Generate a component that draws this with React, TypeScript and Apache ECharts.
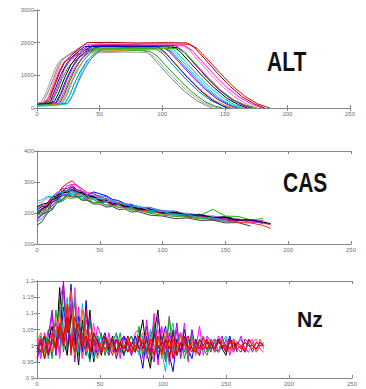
import { useEffect, useRef } from "react";
import * as echarts from "echarts";

// ---------- DATA ----------
const X_TICKS = [0, 50, 100, 150, 200, 250];
const ALT_TICKS = [0, 1000, 2000, 3000];
const CAS_TICKS = [100, 200, 300, 400];
const NZ_TICKS = [0.9, 0.95, 1, 1.05, 1.1, 1.15, 1.2];
const TITLES = ["ALT", "CAS", "Nz"];

const ALT_FLIGHTS: number[][][] = [
  [[0,120],[6,140],[10,350],[14,750],[18,1150],[22,1420],[28,1560],[34,1700],[42,1930],[50,1960],[70,1940],[95,1960],[122,1950],[128,1820],[136,1500],[146,1080],[156,680],[166,360],[176,130],[186,0]],
  [[0,80],[10,110],[14,400],[18,800],[22,1200],[27,1480],[33,1650],[40,1880],[55,1900],[80,1890],[105,1910],[118,1900],[124,1760],[132,1420],[142,1000],[152,620],[162,320],[172,110],[180,0]],
  [[0,100],[8,110],[15,160],[19,450],[23,850],[28,1250],[33,1550],[39,1720],[45,1840],[60,1860],[85,1840],[112,1850],[118,1700],[126,1350],[136,920],[146,540],[156,250],[166,80],[172,0]],
  [[0,150],[5,180],[9,500],[13,900],[17,1300],[22,1550],[28,1700],[35,1800],[50,1790],[70,1800],[85,1790],[90,1650],[98,1300],[108,880],[118,500],[128,220],[135,80],[140,0]],
  [[0,60],[12,80],[20,120],[24,400],[28,800],[33,1200],[38,1500],[44,1750],[50,1900],[65,1880],[85,1900],[105,1890],[111,1730],[119,1400],[129,980],[139,600],[149,300],[158,100],[165,0]],
  [[0,100],[6,120],[12,180],[16,500],[20,900],[25,1250],[30,1450],[36,1600],[42,1750],[60,1740],[80,1760],[90,1740],[96,1590],[104,1250],[114,850],[124,480],[134,200],[142,60],[148,0]],
  [[0,90],[10,100],[18,140],[22,420],[26,820],[31,1230],[36,1520],[42,1720],[48,1870],[65,1880],[85,1870],[100,1880],[106,1720],[114,1380],[124,960],[134,580],[144,270],[153,90],[160,0]],
  [[0,130],[4,160],[8,250],[12,650],[16,1100],[20,1450],[25,1620],[31,1780],[38,1940],[55,1950],[80,1960],[100,1940],[115,1950],[121,1800],[129,1450],[139,1020],[149,630],[159,310],[168,110],[175,0]],
  [[0,70],[12,90],[22,130],[26,380],[30,760],[35,1150],[40,1450],[46,1660],[52,1810],[70,1820],[90,1830],[95,1810],[101,1650],[109,1300],[119,880],[129,510],[139,230],[148,70],[155,0]],
  [[0,110],[8,120],[14,200],[18,520],[22,920],[27,1320],[32,1580],[38,1760],[44,1900],[60,1910],[85,1890],[108,1900],[114,1740],[122,1400],[132,980],[142,600],[152,290],[161,100],[168,0]],
  [[0,90],[15,100],[25,150],[29,420],[33,800],[38,1200],[43,1500],[49,1720],[55,1860],[75,1850],[95,1870],[102,1860],[108,1700],[116,1360],[126,940],[136,560],[146,260],[155,80],[162,0]],
  [[0,140],[3,170],[7,450],[11,850],[15,1250],[19,1480],[24,1580],[30,1700],[45,1690],[70,1710],[88,1700],[94,1560],[102,1220],[112,820],[122,460],[132,190],[140,50],[145,0]],
  [[0,100],[9,110],[16,170],[20,470],[24,870],[29,1270],[34,1560],[40,1770],[46,1920],[65,1930],[90,1910],[110,1920],[116,1770],[124,1430],[134,1000],[144,620],[154,310],[163,110],[170,0]],
  [[0,80],[10,90],[19,130],[23,400],[27,780],[32,1180],[37,1450],[42,1640],[47,1780],[65,1770],[85,1790],[98,1780],[104,1620],[112,1290],[122,880],[132,510],[142,230],[151,70],[158,0]],
  [[0,120],[5,140],[10,260],[14,660],[18,1080],[22,1400],[27,1600],[33,1800],[40,2000],[55,2010],[80,1990],[105,2000],[120,1990],[126,1840],[134,1500],[144,1070],[154,670],[164,340],[174,120],[182,0]],
  [[0,60],[14,70],[24,120],[28,380],[32,760],[36,1150],[41,1470],[46,1700],[50,1850],[70,1840],[90,1860],[104,1850],[110,1690],[118,1350],[128,930],[138,550],[148,250],[157,80],[163,0]],
  [[0,100],[6,120],[11,230],[15,620],[19,1020],[24,1380],[29,1600],[34,1760],[38,1880],[55,1890],[75,1870],[96,1880],[102,1720],[110,1370],[120,940],[130,550],[140,240],[148,70],[152,0]],
  [[0,90],[9,100],[17,150],[21,430],[25,820],[30,1220],[35,1500],[40,1690],[45,1820],[65,1810],[90,1830],[113,1820],[119,1670],[127,1340],[137,920],[147,540],[157,250],[167,80],[176,0]],
];

const CAS_X = [0,4,8,12,16,20,24,28,32,36,40,45,50,55,60,65,70,75,80,90,100,110,120,130,140,150,160,170,180,186];
const CAS_SERIES: number[][] = [
  [195,208,218,243,258,283,295,304,288,278,265,264,250,247,236,234,226,224,214,212,203,202,194,193,186,186,178,177,168,162],
  [180,198,218,232,253,265,288,292,290,268,265,252,250,238,234,226,224,214,214,204,202,194,194,188,188,180,180,170,170],
  [210,221,222,235,242,258,259,273,265,265,258,268,262,256,244,240,230,226,216,213,203,202,193,193,185,183,172],
  [170,182,203,209,233,242,261,259,261,247,249,247,255,243,239,225,225,213,213,201,201,191,193,183,183,172],
  [220,228,232,251,255,271,272,283,269,265,252,251,239,239,227,229,219,221,211,212,201,200,191,194,185,188,179,176],
  [200,202,218,222,241,245,258,255,255,242,243,233,235,225,227,219,221,212,213,204,205,196,199,192,212,190,189,178,182],
  [190,213,227,253,262,278,279,288,275,271,257,255,243,243,231,231,221,223,213,212,199,198,187,188,177,178,170],
  [230,235,248,252,268,272,288,287,287,269,267,255,253,241,241,230,231,221,223,210,209,199,199,190,191,182,182,172,176,162],
  [185,195,202,225,237,255,257,265,253,253,241,243,233,235,225,227,217,219,209,208,197,197,187,189,180,178],
  [160,172,198,212,235,242,255,252,253,241,241,229,229,219,221,211,213,203,205,193,190,182,184,176,177,168,169,158],
  [205,215,219,239,247,263,265,275,263,261,249,259,255,253,239,239,227,229,219,218,207,206,195,196,187,186,175,174,166],
  [215,225,227,245,252,268,267,271,259,258,247,249,237,237,225,227,217,219,209,208,197,198,189,190,181,180,169,168,160,150],
  [175,193,207,233,245,265,272,285,273,269,255,253,239,239,227,229,219,221,211,210,199,200,191,192,183,184,175,176,174],
  [195,197,211,215,233,237,249,247,251,241,243,233,235,225,225,217,217,209,209,199,193,189,187,181,181,173,172],
  [200,213,222,243,249,265,267,277,267,265,253,253,241,241,229,231,221,223,213,212,201,202,193,194,185,186,177,178,170,166],
  [240,242,253,253,265,265,275,267,267,255,255,245,247,237,239,229,231,221,223,208,205,194,194,184,185,174],
];

const NZ_X = [0,3,6,9,12,15,18,21,24,27,30,33,36,39,42,45,48,51,54,57,60,63,66,69,72,75,78,81,84,87,90,93,96,99,102,105,108,111,114,117,120,123,126,129,132,135,138,141,144,147,150,153,156,159,162,165,168,171,174,177,180];
// Nz values x100
const NZ_SERIES: number[][] = [
  [102,96,104,98, 110,97,114,119,105,116,98,112,96,108,103,97,106, 103,97,104,99,102,96,103,100,97,104, 105,96,108,98,110,94,106,99,109,96,105,98,107,95,104,99,106,97,103, 101,98,103,99,102,97,101,100,103,98,101,102,98,100,101],
  [100,97,99,105, 96,111,102,117,98,108,113,97,106,100,95,104,99, 104,97,102,99,98,104,97,101,103,98, 106,97,102,95,107,99,103,96,109,98,102,104,96,101,103,98,102,99,97, 101,102,98,100,101],
  [96,101,103,97, 103,107,98,112,104,119,100,109,98,114,96,102,97, 101,104,98,102,96,101,103,98,100,103, 99,93,103,98,104,96,101,106,97,92,102,98,105,99,96,102,99,103,98, 102,99,98,102,99,103,98,101,102,99,98],
  [98,102,96,101, 106,99,118,102,97,110,105,94,108,99,111,95,102, 97,102,99,103,98,101,97,102,99,98, 102,108,98,93,104,111,97,102,95,105,99,98,103,96,102,99,97,102,101, 101,98,102,99,97,102,101,98],
  [103,98,102,96, 101,105,97,109,115,100,107,98,113,104,99,96,103, 102,99,97,102,103,98,101,102,98,101, 97,103,99,105,96,102,98,92,103,107,97,101,102,96,104,98,101,102,98, 101,102,98,101,103,99,98],
  [95,102,98,103, 111,97,105,120,99,113,95,107,103,97,109,102,98, 101,103,97,101,102,98,103,101,97,102, 103,99,106,98,95,109,102,97,104,99,107,96,102,98,105,99,97,102,101, 98,102,101,103,98,101,102,99,98,102,101,98,101],
  [99,103,98,102, 97,104,112,98,106,101,115,99,104,97,108,100,103, 99,102,98,101,104,99,97,101,103,99, 98,101,97,103,106,98,100,95,102,99,101,104,98,102,99,101,98,100,102, 99,101,98,102,100,99,101],
  [104,97,101,98, 102,108,96,106,112,98,118,103,96,105,99,107,98, 98,101,103,98,102,97,101,102,99,98, 101,104,96,102,98,105,99,103,94,102,98,104,99,97,102,101,98,102,99, 101,102,98,101,99,102,98,101,102,99,98,101,102,99,98],
  [101,104,97,101, 98,104,110,99,107,117,97,105,111,98,104,99,96, 101,98,102,99,97,102,99,103,98,101, 102,98,104,97,101,103,96,105,99,102,97,103,101,98,102,97,101,103,99, 102,98,101,102,99,98,102,101,99,98,102,101,98,102,99],
  [100,98,103,97, 102,100,106,103,109,99,104,107,100,103,98,104,101, 98,103,100,102,98,101,99,103,100,98, 103,99,102,97,104,100,98,102,99,104,97,101,100,103,99,98,102,100,99, 101,99,102,100,98,102,99,101,100,98,102,100,99,101,100],
  [98,102,96,101, 104,99,107,101,113,97,109,103,100,111,98,102,100, 99,101,100,97,102,100,99,101,98,100, 99,102,98,101,97,103,100,99,102,96,101,100,103,98,100,101,99,100,102, 99,100,101,100,99,101,100,99,100,101,100,99,101,100,100],
  [99,101,100,98, 101,99,104,100,107,102,98,104,101,99,102,100,101, 100,99,101,100,102,99,100,98,101,100, 100,101,98,102,100,99,101,100,97,102,100,99,101,100,98,101,100,99,101, 100,99,101,100,100,99,101,100,99,101,100,100,99,101,100],
];

// ---------- STYLES ----------
const ALT_COLORS = ["#ff0000","#ff00ff","#0000ff","#808080","#00c0c0","#00a000","#8000c0","#ff66cc","#008080","#000000","#3060ff","#a0a0a0","#c000c0","#ff8000","#a00000","#00e0e0","#0000c0","#40b000"];
const CAS_COLORS = ["#ff0000","#ff00ff","#0000ff","#00c0c0","#000000","#00c000","#8000c0","#ff66cc","#008080","#404040","#3060ff","#e03000","#c000c0","#40a000","#000000","#00c0e0"];
const NZ_COLORS = ["#ff00ff","#00b000","#0000ff","#000000","#00c0c0","#a000e0","#008080","#ff40a0","#ff6000","#c00000","#ff0000","#e00020"];

const GRIDS = [
  { left: 37, top: 10, width: 313, height: 98 },
  { left: 37, top: 151, width: 314, height: 93 },
  { left: 37, top: 281, width: 315, height: 97 },
];
const TITLE_POS = [
  { x: 267, y: 61, scaleY: 1.3 },
  { x: 283, y: 182, scaleY: 1.3 },
  { x: 297, y: 320, scaleY: 1.05 },
];

function App() {
  const ref = useRef<HTMLDivElement>(null);
  useEffect(() => {
    if (!ref.current) return;
    const chart = echarts.init(ref.current, null, { renderer: "svg" });
    const gray = "#858585";
    const ticksList = [ALT_TICKS, CAS_TICKS, NZ_TICKS];
    const baseAxis = (show: boolean) => ({
      axisLine: { show: true, lineStyle: { color: gray, width: 1 } },
      axisTick: { show: true, inside: true, length: 3, lineStyle: { color: gray } },
      splitLine: { show: false },
      axisLabel: {
        show,
        fontSize: 6,
        color: "#707070",
        margin: 3,
        fontFamily: "Liberation Sans",
        formatter: (v: number) => String(+(+v).toFixed(3)),
      },
    });
    const xAxis: any[] = [];
    const yAxis: any[] = [];
    [0, 1, 2].forEach((g) => {
      xAxis.push({ type: "value", gridIndex: g, position: "bottom", min: X_TICKS[0], max: X_TICKS[X_TICKS.length - 1], interval: X_TICKS[1] - X_TICKS[0], ...baseAxis(true) });
    });
    [0, 1, 2].forEach((g) => {
      xAxis.push({ type: "value", gridIndex: g, position: "top", min: X_TICKS[0], max: X_TICKS[X_TICKS.length - 1], interval: X_TICKS[1] - X_TICKS[0], ...baseAxis(false) });
    });
    [0, 1, 2].forEach((g) => {
      const t = ticksList[g];
      yAxis.push({ type: "value", gridIndex: g, position: "left", min: t[0], max: t[t.length - 1], interval: +(t[1] - t[0]).toFixed(4), ...baseAxis(true) });
    });
    [0, 1, 2].forEach((g) => {
      const t = ticksList[g];
      yAxis.push({ type: "value", gridIndex: g, position: "right", min: t[0], max: t[t.length - 1], interval: +(t[1] - t[0]).toFixed(4), ...baseAxis(false) });
    });

    const line = (g: number, data: number[][], color: string) => ({
      type: "line",
      xAxisIndex: g,
      yAxisIndex: g,
      data,
      symbol: "none",
      showSymbol: false,
      silent: true,
      lineStyle: { width: 1, color },
      itemStyle: { color },
    });

    const series: any[] = [];
    ALT_FLIGHTS.forEach((d, k) => series.push(line(0, d, ALT_COLORS[k % ALT_COLORS.length])));
    CAS_SERIES.forEach((vals, k) =>
      series.push(line(1, vals.slice(0, CAS_X.length).map((v, i) => [CAS_X[i], v]), CAS_COLORS[k % CAS_COLORS.length]))
    );
    NZ_SERIES.forEach((vals, k) =>
      series.push(line(2, vals.slice(0, NZ_X.length).map((v, i) => [NZ_X[i], v / 100]), NZ_COLORS[k % NZ_COLORS.length]))
    );

    chart.setOption({
      animation: false,
      backgroundColor: "#ffffff",
      grid: GRIDS.map((g) => ({ ...g, show: false })),
      xAxis,
      yAxis,
      series,
      graphic: TITLES.map((t, i) => ({
        type: "text",
        x: TITLE_POS[i].x,
        y: TITLE_POS[i].y,
        scaleY: TITLE_POS[i].scaleY,
        z: 100,
        style: {
          text: t,
          fill: "#111111",
          font: "bold 21px 'Liberation Sans', Arial, sans-serif",
          textVerticalAlign: "middle",
          textAlign: "left",
        },
      })),
    });
    return () => chart.dispose();
  }, []);
  return (
    <div
      ref={ref}
      style={{ position: "fixed", left: 0, top: 0, width: 366, height: 389, background: "#fff" }}
    />
  );
}

export default App;
